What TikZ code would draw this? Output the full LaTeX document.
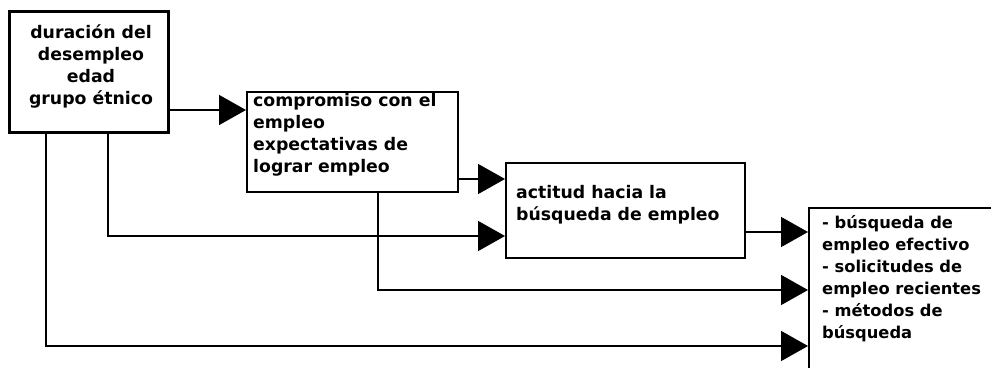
\documentclass[tikz,border=0pt]{standalone}
\usepackage{fontspec}
\setmainfont{DejaVu Sans}
\usetikzlibrary{arrows.meta}
\begin{document}
\begin{tikzpicture}[x=1pt,y=-1pt,
  box/.style={draw, line width=1.5pt, inner sep=0pt, anchor=north west},
  txt/.style={inner sep=0pt, font=\fontsize{17.3}{22}\selectfont\bfseries, align=left, anchor=north west},
  conn/.style={line width=1.5pt, -{Triangle[length=27pt,width=30pt]}}]
\useasboundingbox (0,0) rectangle (991,367);
\clip (0,0) rectangle (991,367);
% boxes
\node[box, line width=2.6pt, minimum width=159pt, minimum height=121pt] (b1) at (8,10) {};
\node[box, minimum width=211pt, minimum height=100pt] (b2) at (246,91) {};
\node[box, minimum width=239pt, minimum height=95pt] (b3) at (505,162) {};
\node[box, minimum width=240pt, minimum height=200pt] (b4) at (808,207) {};
% texts
\node[txt, align=center, anchor=north] (t1) at (91,24) {duración del\\desempleo\\edad\\grupo étnico};
\node[txt] (t2) at (253,93) {compromiso con el\\empleo\\expectativas de\\lograr empleo};
\node[txt] (t3) at (516,185) {actitud hacia la\\búsqueda de empleo};
\node[txt, font=\fontsize{16.3}{22}\selectfont\bfseries] (t4) at (822,215) {- búsqueda de\\empleo efectivo\\- solicitudes de\\empleo recientes\\- métodos de\\búsqueda};
% connectors
\draw[conn] (b1.east |- 0,110) -- (b2.west |- 0,110);
\draw[conn] (b2.east |- 0,179) -- (b3.west |- 0,179);
\draw[conn] (b1.south -| 108,0) |- (b3.west |- 0,236);
\draw[conn] (b3.east |- 0,232) -- (b4.west |- 0,232);
\draw[conn] (b2.south -| 378,0) |- (b4.west |- 0,290);
\draw[conn] (b1.south -| 46,0) |- (b4.west |- 0,346);
\end{tikzpicture}
\end{document}
